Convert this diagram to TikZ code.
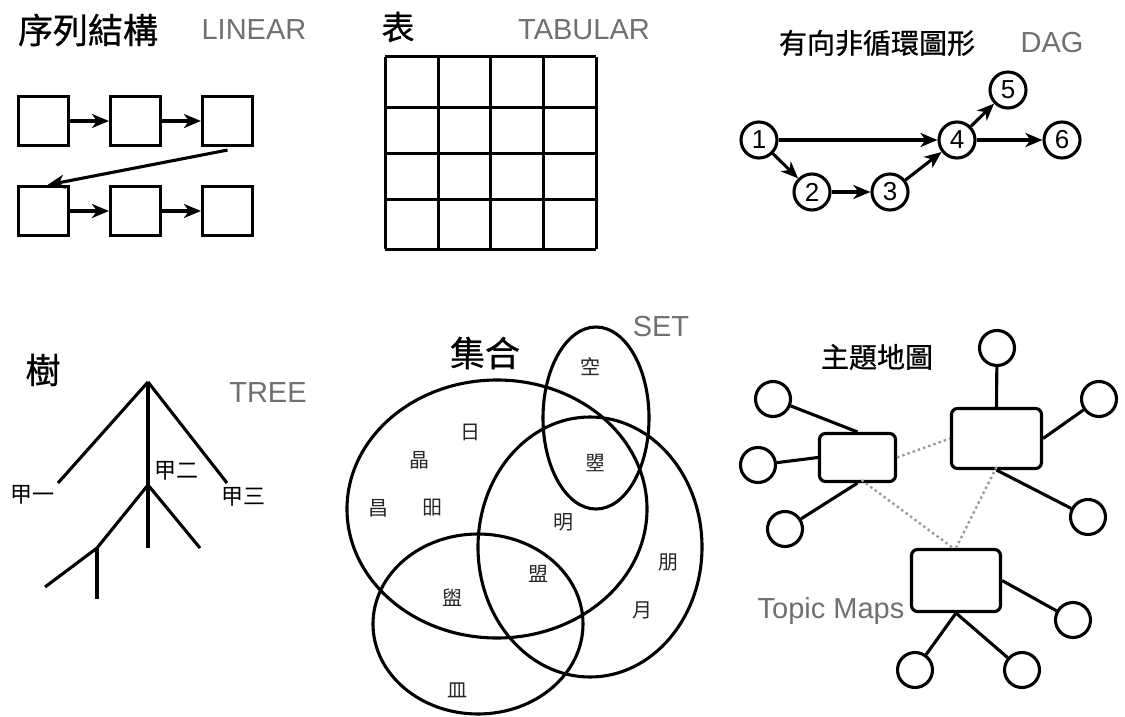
\documentclass[tikz,border=0pt]{standalone}
\usepackage{fontspec}
\setmainfont{Liberation Sans}
\newfontfamily\cjk{Noto Sans CJK TC}
\newfontfamily\cjkheavy{Noto Sans CJK TC}[FakeBold=0.8]
\usetikzlibrary{arrows.meta}
\definecolor{labelgray}{HTML}{707070}
\tikzset{
  ink/.style={line width=3.1pt, black},
  arr/.style={ink, -{Stealth[length=17pt,width=14pt,inset=5pt]}},
  cell/.style={draw, ink, minimum width=50pt, minimum height=49pt, inner sep=0pt},
  num/.style={draw, ink, circle, minimum size=36pt, inner sep=0pt, font=\fontsize{26pt}{26pt}\selectfont},
  bubble/.style={draw, ink, circle, minimum size=35pt, inner sep=0pt},
  topic/.style={draw, ink, rounded corners=6pt, inner sep=0pt},
  assoc/.style={labelgray!70, line width=2.4pt, dash pattern=on 2.5pt off 3pt},
  title/.style={font=\cjkheavy\fontsize{35pt}{35pt}\selectfont, inner sep=0pt},
  subtitle/.style={font=\cjkheavy\fontsize{28pt}{28pt}\selectfont, inner sep=0pt},
  eng/.style={text=labelgray, font=\fontsize{29pt}{29pt}\selectfont, inner sep=0pt},
  glyph/.style={text=black!85, font=\cjk\fontsize{20pt}{20pt}\selectfont, inner sep=0pt},
  leaf/.style={font=\cjk\fontsize{22pt}{22pt}\selectfont, inner sep=0pt},
}
\begin{document}
\begin{tikzpicture}[x=1pt, y=-1pt]
\useasboundingbox (0,0) rectangle (1125,717);

% ---------- linear list ----------
\node[title] (tlin) at (88,30) {序列結構};
\node[eng] (elin) at (254,30) {LINEAR};
\node[cell] (b1) at (43.5,121) {};
\node[cell] (b2) at (135.5,121) {};
\node[cell] (b3) at (227.5,121) {};
\node[cell] (b4) at (43.5,211) {};
\node[cell] (b5) at (135.5,211) {};
\node[cell] (b6) at (227.5,211) {};
\draw[arr] (b1) -- (b2);
\draw[arr] (b2) -- (b3);
\draw[arr] ([yshift=-3pt]b3.south) -- ([xshift=4pt]b4.north);
\draw[arr] (b4) -- (b5);
\draw[arr] (b5) -- (b6);

% ---------- table ----------
\node[title, font=\cjkheavy\fontsize{33pt}{33pt}\selectfont] (ttab) at (398,27) {表};
\node[eng] (etab) at (584,30) {TABULAR};
\foreach \x in {385,438,490,543,596} \draw[ink, line width=3pt] (\x,57) -- (\x,249);
\foreach \y in {57,107,153,199,249} \draw[ink, line width=3pt] (385,\y) -- (596,\y);

% ---------- directed acyclic graph ----------
\node[subtitle] (tdag) at (877,43) {有向非循環圖形};
\node[eng] (edag) at (1052,43) {DAG};
\node[num] (n1) at (759,140) {1};
\node[num] (n2) at (812,192) {2};
\node[num] (n3) at (890,192) {3};
\node[num] (n4) at (957,140) {4};
\node[num] (n5) at (1008,90) {5};
\node[num] (n6) at (1062,140) {6};
\draw[arr] (n1) -- (n4);
\draw[arr] (n1) -- (n2);
\draw[arr] (n2) -- (n3);
\draw[arr] (n3) -- (n4);
\draw[arr] (n4) -- (n5);
\draw[arr] (n4) -- (n6);

% ---------- tree ----------
\node[title] (ttree) at (43,370) {樹};
\node[eng] (etree) at (268,393) {TREE};
\coordinate (root) at (148,382);
\coordinate (ka) at (58,483);
\coordinate (kb) at (148,485);
\coordinate (kc) at (227,483);
\coordinate (kba) at (97,548);
\coordinate (kbb) at (148,548);
\coordinate (kbc) at (200,548);
\coordinate (kbaa) at (45,587);
\coordinate (kbab) at (97,599);
\draw[ink] (root) -- (ka);
\draw[ink] (root) -- (kb);
\draw[ink] (root) -- (kc);
\draw[ink] (kb) -- (kba);
\draw[ink] (kb) -- (kbb);
\draw[ink] (kb) -- (kbc);
\draw[ink] (kba) -- (kbaa);
\draw[ink] (kba) -- (kbab);
\node[leaf] (l1) at (32,495) {甲一};
\node[leaf] (l2) at (176,471) {甲二};
\node[leaf] (l3) at (243,497) {甲三};

% ---------- sets ----------
\node[title] (tset) at (485,353) {集合};
\node[eng] (eset) at (661,327) {SET};
\draw[ink] (497,509) ellipse [x radius=150, y radius=129];
\draw[ink] (590,547) ellipse [x radius=112, y radius=130];
\draw[ink] (478,624) ellipse [x radius=105, y radius=90];
\draw[ink] (596,418) ellipse [x radius=53, y radius=91];
\node[glyph] (s1) at (590,367) {空};
\node[glyph] (s2) at (470,432) {日};
\node[glyph] (s3) at (419,460) {晶};
\node[glyph] (s4) at (378,508) {昌};
\node[glyph] (s5) at (432,508) {昍};
\node[glyph] (s6) at (595,463) {曌};
\node[glyph] (s7) at (563,522) {明};
\node[glyph] (s8) at (668,562) {朋};
\node[glyph] (s9) at (642,610) {月};
\node[glyph] (s10) at (538,574) {盟};
\node[glyph] (s11) at (452,598) {盥};
\node[glyph] (s12) at (457,690) {皿};

% ---------- topic map ----------
\node[subtitle] (ttop) at (877,357) {主題地圖};
\node[eng] (etop) at (831,611) {Topic Maps};
\node[topic, minimum width=76pt, minimum height=48pt] (rl) at (857.5,457.5) {};
\node[topic, minimum width=90pt, minimum height=60pt] (rr) at (996.5,438.5) {};
\node[topic, minimum width=89pt, minimum height=62pt] (rb) at (956,580.5) {};
\node[bubble] (cl1) at (773,399) {};
\node[bubble] (cl2) at (758,465) {};
\node[bubble] (cl3) at (785,529) {};
\node[bubble] (cr1) at (997,348) {};
\node[bubble] (cr2) at (1099,399) {};
\node[bubble] (cr3) at (1088,517) {};
\node[bubble] (cb1) at (1073,620) {};
\node[bubble] (cb2) at (915,670) {};
\node[bubble] (cb3) at (1022,670) {};
\draw[ink] (cl1) -- (rl.north);
\draw[ink] (cl2) -- (rl.west);
\draw[ink] (cl3) -- (rl.south);
\draw[ink] (cr1) -- (rr.north);
\draw[ink] (cr2) -- (rr.east);
\draw[ink] (cr3) -- (rr.south);
\draw[ink] (cb1) -- (rb.east);
\draw[ink] (cb2) -- (rb.south);
\draw[ink] (cb3) -- (rb.south);
\draw[assoc] (rl.east) -- (rr.west);
\draw[assoc] ([xshift=4pt,yshift=3pt]rl.south) -- ([xshift=-3pt]rb.north);
\draw[assoc] ([yshift=3pt]rr.south) -- (rb.north);
\end{tikzpicture}
\end{document}
